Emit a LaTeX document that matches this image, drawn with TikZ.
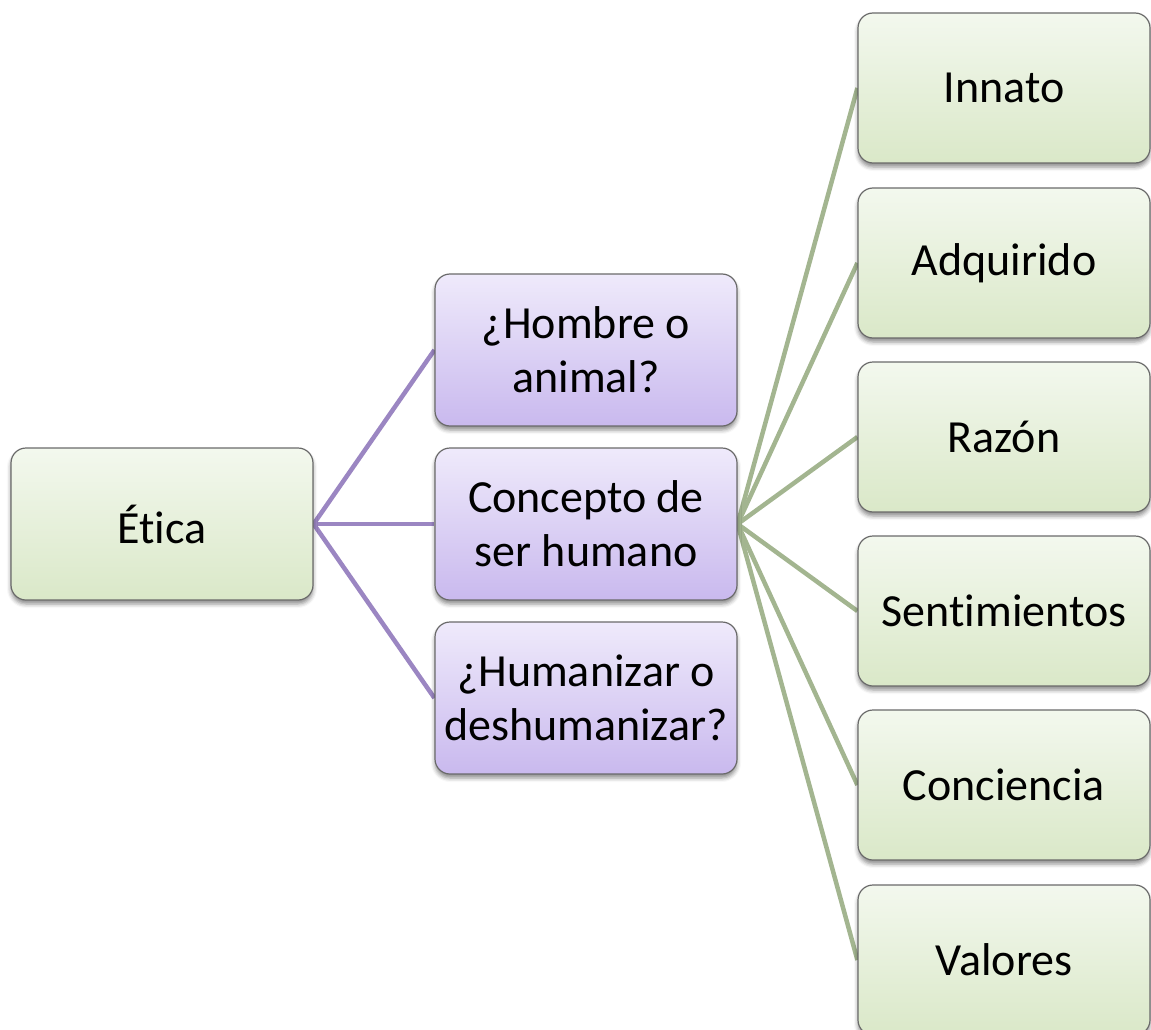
\documentclass[tikz,border=0pt]{standalone}
\usepackage{fontspec}
\setmainfont[Ligatures=NoCommon]{Carlito}
\usetikzlibrary{shadows.blur,backgrounds}
\definecolor{gtop}{HTML}{F3F8EE}
\definecolor{gbot}{HTML}{DAE8C8}
\definecolor{ptop}{HTML}{EFEAFB}
\definecolor{pbot}{HTML}{C9B9EE}
\definecolor{bordc}{HTML}{6A6A6A}
\definecolor{plink}{HTML}{9B86C2}
\definecolor{glink}{HTML}{A3B590}
\tikzset{
  box/.style={rounded corners=15pt, draw=bordc, line width=1.2pt,
    minimum width=302pt, minimum height=152pt, inner sep=0pt, align=center,
    font=\fontsize{46}{54}\selectfont,
    blur shadow={shadow xshift=0pt, shadow yshift=-4pt, shadow blur radius=4pt, shadow opacity=45}},
  gbox/.style={box, top color=gtop, bottom color=gbot},
  pbox/.style={box, top color=ptop, bottom color=pbot},
  rbox/.style={gbox, minimum width=292pt, minimum height=150pt},
  plinkst/.style={draw=plink, line width=4.5pt},
  glinkst/.style={draw=glink, line width=4.5pt}
}
\begin{document}
\begin{tikzpicture}[x=1pt,y=-1pt]
\useasboundingbox (0,0) rectangle (1151,1030);
\clip (0,0) rectangle (1151,1030);
\node[gbox] (etica) at (162,524) {Ética};
\node[pbox] (hom) at (586,350) {¿Hombre o\\animal?};
\node[pbox] (con) at (586,524) {Concepto de\\ser humano};
\node[pbox] (hum) at (586,698) {¿Humanizar o\\deshumanizar?};
\node[rbox] (inn) at (1004,88) {Innato};
\node[rbox] (adq) at (1004,263) {Adquirido};
\node[rbox] (raz) at (1004,437) {Razón};
\node[rbox] (sen) at (1004,611) {Sentimientos};
\node[rbox] (conc) at (1004,785) {Conciencia};
\node[rbox] (val) at (1004,960) {Valores};
\begin{scope}[on background layer]
\foreach \t in {hom,con,hum}
  \path[plinkst] (etica.east) -- (\t.west);
\foreach \t in {inn,adq,raz,sen,conc,val}
  \path[glinkst] (con.east) -- (\t.west);
\end{scope}
\end{tikzpicture}
\end{document}
